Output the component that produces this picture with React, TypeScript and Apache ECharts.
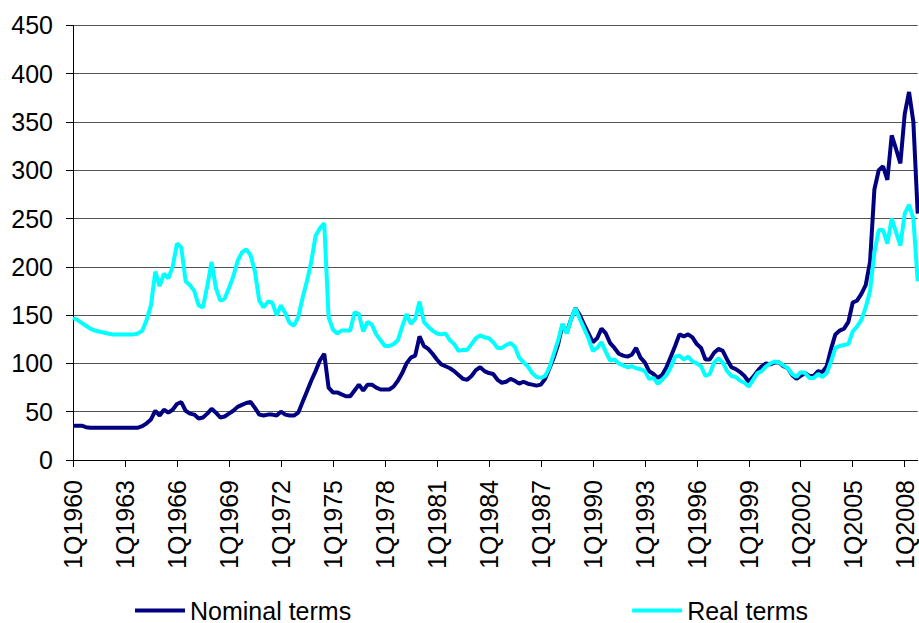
import React, { useEffect, useRef } from "react";
import * as echarts from "echarts";

const firstYear = 1960;
const lastYear = 2008;
const quarters = ["1Q", "2Q", "3Q", "4Q"];

const nominalTerms: number[] = [
  35.5, 35.5, 35.5, 34, 33.5, 33.5, 33.5, 33.5, 33.5, 33.5, 33.5, 33.5, 33.5, 33.5, 33.5, 33.5,
  35, 38, 42, 51, 46, 52, 49, 52, 58, 60, 51, 48, 47, 43, 44, 48,
  53, 49, 44, 45, 48, 51, 55, 57, 59, 60, 54, 47, 46, 47, 47, 46,
  50, 47, 46, 46, 49, 60, 71, 82, 92, 103, 110, 75, 70, 70, 68, 66,
  66, 72, 78, 72, 78, 78, 75, 73, 73, 73, 76, 82, 90, 100, 106, 108,
  128, 118, 115, 110, 104, 99, 97, 95, 92, 88, 84, 83, 87, 93, 96, 92,
  90, 89, 83, 80, 81, 84, 82, 79, 81, 79, 78, 77, 78, 84, 95, 106,
  120, 140, 132, 146, 157, 150, 140, 131, 122, 126, 136, 131, 121, 116, 110, 108,
  107, 109, 116, 106, 101, 92, 89, 85, 88, 96, 107, 118, 130, 128, 130, 127,
  120, 116, 104, 104, 111, 115, 113, 104, 96, 94, 91, 87, 81, 86, 92, 97,
  100, 99, 101, 101, 97, 95, 88, 84, 87, 90, 87, 87, 92, 91, 97, 115,
  130, 134, 136, 143, 163, 165, 172, 181, 205, 280, 300, 304, 290, 336, 322, 307,
  358, 381, 350, 255,
];

const realTerms: number[] = [
  147, 145, 142, 139, 136, 134, 133, 132, 131, 130, 130, 130, 130, 130, 130, 131,
  134, 145, 160, 195, 180, 193, 188, 200, 224, 220, 185, 181, 175, 160, 158, 180,
  205, 178, 165, 167, 178, 190, 206, 215, 218, 212, 195, 165, 158, 164, 163, 150,
  160, 152, 142, 139, 148, 168, 185, 205, 232, 240, 245, 148, 135, 131, 134, 134,
  134, 153, 151, 133, 143, 140, 130, 124, 118, 118, 120, 124, 138, 151, 141, 146,
  164, 143, 138, 134, 131, 130, 131, 124, 120, 113, 114, 114, 120, 126, 129, 127,
  126, 122, 116, 116, 119, 121, 117, 106, 101, 97, 90, 86, 85, 87, 96, 110,
  124, 141, 131, 146, 157, 146, 136, 126, 113, 116, 122, 112, 103, 104, 100, 98,
  96, 97, 95, 94, 92, 84, 85, 79, 83, 88, 96, 107, 108, 104, 107, 102,
  100, 97, 87, 89, 101, 105, 101, 92, 87, 86, 82, 80, 76, 83, 90, 92,
  97, 100, 102, 101, 98, 95, 89, 86, 91, 90, 85, 85, 89, 86, 90, 102,
  116, 118, 119, 120, 133, 138, 145, 158, 175, 215, 238, 238, 224, 250, 236, 222,
  255, 264, 250, 185,
];

const yTicks = { min: 0, max: 450, interval: 50 };

const categories: string[] = [];
for (let y = firstYear; y <= lastYear; y++) {
  for (const q of quarters) categories.push(q + y);
}

const FONT = "'Liberation Sans', Arial, sans-serif";

export default function App() {
  const ref = useRef<HTMLDivElement>(null);
  useEffect(() => {
    if (!ref.current) return;
    const chart = echarts.init(ref.current, undefined, { renderer: "svg" });
    chart.setOption({
      animation: false,
      backgroundColor: "#ffffff",
      textStyle: { fontFamily: FONT },
      grid: { left: 73, right: 1.3, top: 25.3, bottom: 163, containLabel: false },
      legend: {
        data: [
          { name: "Nominal terms", icon: "rect" },
          { name: "Real terms", icon: "rect" },
        ],
        left: 130,
        top: 593,
        itemWidth: 50,
        itemHeight: 4,
        itemGap: 281,
        textStyle: { fontSize: 25, color: "#000", fontFamily: FONT },
      },
      xAxis: {
        type: "category",
        data: categories,
        boundaryGap: false,
        axisLine: { lineStyle: { color: "#000", width: 1 } },
        axisTick: { show: true, interval: 11, length: 7, lineStyle: { color: "#000" } },
        axisLabel: {
          interval: 11,
          rotate: 90,
          margin: 20,
          fontSize: 25,
          color: "#000",
          fontFamily: FONT,
        },
        splitLine: { show: false },
      },
      yAxis: {
        type: "value",
        min: yTicks.min,
        max: yTicks.max,
        interval: yTicks.interval,
        axisLine: { show: true, lineStyle: { color: "#000", width: 1 } },
        axisTick: { show: true, length: 7, lineStyle: { color: "#000" } },
        axisLabel: { fontSize: 25, color: "#000", margin: 20, fontFamily: FONT },
        splitLine: { show: true, lineStyle: { color: "#555", width: 1 } },
      },
      series: [
        {
          name: "Nominal terms",
          type: "line",
          data: nominalTerms,
          showSymbol: false,
          symbol: "none",
          lineStyle: { color: "#000080", width: 4 },
          itemStyle: { color: "#000080" },
        },
        {
          name: "Real terms",
          type: "line",
          data: realTerms,
          showSymbol: false,
          symbol: "none",
          lineStyle: { color: "#00FFFF", width: 4 },
          itemStyle: { color: "#00FFFF" },
        },
      ],
    });
    return () => chart.dispose();
  }, []);
  return (
    <div
      ref={ref}
      style={{ position: "fixed", left: 0, top: 0, width: 919, height: 623, background: "#fff" }}
    />
  );
}
